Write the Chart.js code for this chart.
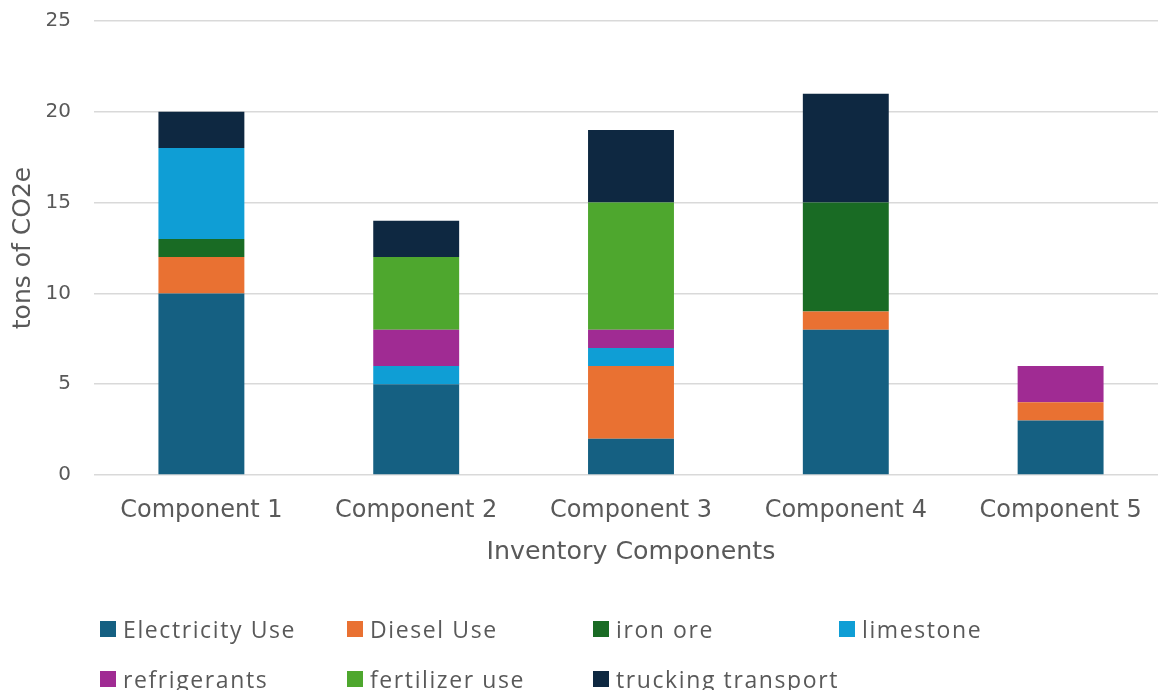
<!DOCTYPE html>
<html>
<head>
<meta charset="utf-8">
<script src="https://cdn.jsdelivr.net/npm/chart.js@4.4.1/dist/chart.umd.min.js"></script>
<style>
  html, body { margin: 0; padding: 0; background: #fff; overflow: hidden; width: 1158px; height: 690px; }
  #wrap { position: absolute; left: 0; top: 0; width: 1180px; height: 580px; }
  #legend { position: absolute; left: 0; top: 0; width: 1158px; height: 690px; pointer-events: none;
            font-family: "Open Sans", "DejaVu Sans", sans-serif; font-size: 23px; letter-spacing: 1.6px; color: #595959; }
  .item { position: absolute; display: flex; align-items: center; white-space: nowrap; }
  .box { width: 16px; height: 16px; margin-right: 7px; flex: none; }
</style>
</head>
<body>
<div id="wrap"><canvas id="c" width="1180" height="580"></canvas></div>
<div id="legend"></div>
<script>
// Emissions by inventory component, tons of CO2e
const categories = ['Component 1', 'Component 2', 'Component 3', 'Component 4', 'Component 5'];
const seriesNames = ['Electricity Use', 'Diesel Use', 'iron ore', 'limestone', 'refrigerants', 'fertilizer use', 'trucking transport'];
const electricityUse    = [10, 5, 2, 8, 3];
const dieselUse         = [2, 0, 4, 1, 1];
const ironOre           = [1, 0, 0, 6, 0];
const limestone         = [5, 1, 1, 0, 0];
const refrigerants      = [0, 2, 1, 0, 2];
const fertilizerUse     = [0, 4, 7, 0, 0];
const truckingTransport = [2, 2, 4, 6, 0];
const yTicks = [0, 5, 10, 15, 20, 25];

const seriesValues = [electricityUse, dieselUse, ironOre, limestone, refrigerants, fertilizerUse, truckingTransport];
const seriesColors = ['#156082', '#E97132', '#196B24', '#0F9ED5', '#A02B93', '#4EA72E', '#0E2841'];

const textColor = '#595959';
const axisFont = 'DejaVu Sans';

const chart = new Chart(document.getElementById('c'), {
  type: 'bar',
  data: {
    labels: categories,
    datasets: seriesNames.map((name, i) => ({
      label: name,
      data: seriesValues[i],
      backgroundColor: seriesColors[i],
      borderWidth: 0,
      categoryPercentage: 1.0,
      barPercentage: 0.4
    }))
  },
  options: {
    responsive: false,
    animation: false,
    devicePixelRatio: 1,
    layout: { padding: { left: 0, right: 12, top: 21, bottom: 0 } },
    plugins: { legend: { display: false }, tooltip: { enabled: false } },
    scales: {
      x: {
        stacked: true,
        grid: { display: false, drawTicks: false },
        border: { display: false },
        ticks: { color: textColor, font: { family: axisFont, size: 24 }, padding: 21, maxRotation: 0 },
        title: { display: true, text: 'Inventory Components', color: textColor,
                 font: { family: axisFont, size: 25.3 }, padding: 12 },
        afterFit: s => { s.height = 105; }
      },
      y: {
        stacked: true,
        min: 0, max: 25,
        afterBuildTicks: s => { s.ticks = yTicks.map(v => ({ value: v })); },
        // invisible tick marks keep the labels clear of the plot edge
        grid: { color: '#d9d9d9', lineWidth: 1.5, drawTicks: true, tickLength: 23, tickColor: 'rgba(0,0,0,0)' },
        border: { display: false },
        ticks: { color: textColor, font: { family: axisFont, size: 20 }, padding: 0 },
        title: { display: true, text: 'tons of CO2e', color: textColor,
                 font: { family: axisFont, size: 25 }, padding: 8 },
        afterFit: s => { s.width = 94; }
      }
    }
  }
});

// Legend laid out as a fixed four-column grid below the chart
const legend = document.getElementById('legend');
const colX = [100, 347, 593, 839];
const rowY = [629, 679];
seriesNames.forEach((name, i) => {
  const el = document.createElement('div');
  el.className = 'item';
  el.style.left = colX[i % 4] + 'px';
  el.style.top = (rowY[Math.floor(i / 4)] - 16) + 'px';
  el.style.height = '32px';
  const box = document.createElement('span');
  box.className = 'box';
  box.style.background = seriesColors[i];
  const txt = document.createElement('span');
  txt.textContent = name;
  el.appendChild(box);
  el.appendChild(txt);
  legend.appendChild(el);
});
</script>
</body>
</html>
